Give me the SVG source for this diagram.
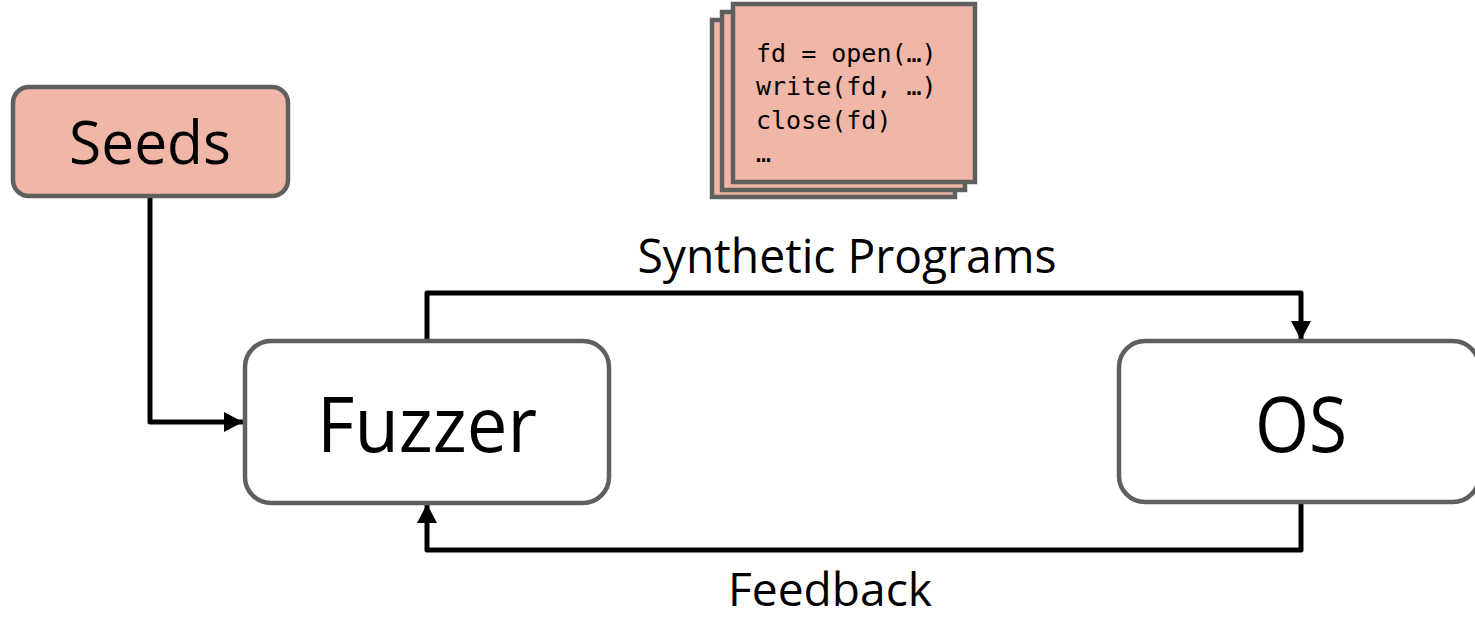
<svg xmlns="http://www.w3.org/2000/svg" width="1475" height="620" viewBox="0 0 1475 620">
<style>
.box{fill:#ffffff;stroke:#5f5f5f;stroke-width:4.5}
.pink{fill:#f0b6a7;stroke:#5f5f5f;stroke-width:4.5}
.lbl{font-family:"Open Sans","Liberation Sans",sans-serif;fill:#000}
.code{font-family:"DejaVu Sans Mono","Liberation Mono",monospace;font-size:25px;fill:#000}
.conn{fill:none;stroke:#000;stroke-width:5;stroke-linejoin:round}
</style>
<defs>
<marker id="arr" markerUnits="userSpaceOnUse" markerWidth="22" markerHeight="22" refX="19" refY="10" orient="auto">
<path d="M0,0 L19,10 L0,20 Z" fill="#000"/>
</marker>
</defs>
<g id="connectors">
<path class="conn" d="M150,197 V422 H243" marker-end="url(#arr)"/>
<path class="conn" d="M427,341 V293 H1301 V340" marker-end="url(#arr)"/>
<path class="conn" d="M1301,503 V550 H427 V504" marker-end="url(#arr)"/>
</g>
<g id="seeds">
<rect class="pink" x="13" y="87" width="275" height="109" rx="16"/>
<text class="lbl" x="150" y="164" font-size="61" text-anchor="middle" textLength="162" lengthAdjust="spacingAndGlyphs">Seeds</text>
</g>
<g id="programs">
<rect class="pink" x="712" y="20" width="243" height="177"/>
<rect class="pink" x="722" y="12" width="243" height="178"/>
<rect class="pink" x="733" y="4" width="242" height="178"/>
<text class="code" x="756" y="62">fd = open(…)</text>
<text class="code" x="756" y="95">write(fd, …)</text>
<text class="code" x="756" y="129">close(fd)</text>
<text class="code" x="756" y="162">…</text>
</g>
<g id="fuzzer">
<rect class="box" x="245" y="341" width="364" height="162" rx="26"/>
<text class="lbl" x="427" y="452" font-size="76" text-anchor="middle" textLength="220" lengthAdjust="spacingAndGlyphs">Fuzzer</text>
</g>
<g id="os">
<rect class="box" x="1119" y="341" width="360" height="161" rx="26"/>
<text class="lbl" x="1301" y="452" font-size="76" text-anchor="middle" textLength="92" lengthAdjust="spacingAndGlyphs">OS</text>
</g>
<g id="labels">
<text class="lbl" x="847" y="273" font-size="48" text-anchor="middle" textLength="419" lengthAdjust="spacingAndGlyphs">Synthetic Programs</text>
<text class="lbl" x="830" y="606" font-size="46" text-anchor="middle" textLength="204" lengthAdjust="spacingAndGlyphs">Feedback</text>
</g>
</svg>
